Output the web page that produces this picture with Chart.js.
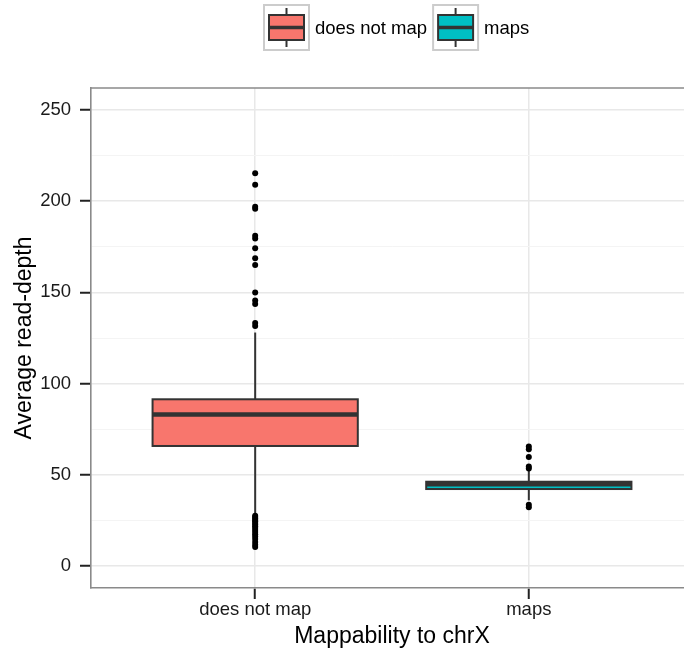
<!DOCTYPE html>
<html>
<head>
<meta charset="utf-8">
<script src="https://cdn.jsdelivr.net/npm/chart.js@4.4.0/dist/chart.umd.min.js"></script>
<style>
  html, body { margin: 0; padding: 0; background: #fff; overflow: hidden; }
  canvas { display: block; }
</style>
</head>
<body>
<canvas id="chart" width="700" height="655"></canvas>
<script>
const categories = ['does not map', 'maps'];
const fillColors = ['#F8766D', '#00BFC4'];

// box statistics, one entry per category
const lowerWhisker = [29, 36];
const lowerQuartile = [65.8, 42.2];
const medians = [83, 44.8];
const upperQuartile = [91.4, 46.2];
const upperWhisker = [128, 52.6];

const outliersDoesNotMap = [
  215.3, 209, 197, 195.8, 181, 179.5, 174.2, 168.7, 165, 149.9, 145.5, 143.6, 133.2, 131.6,
  27.5, 26.8, 26, 25.2, 24.5, 23.6, 22.8, 21.8, 20.8, 19.8, 18.6, 17.4, 16.2, 14.8, 13.2, 11.6, 10.4
];
const outliersMaps = [65.5, 64, 59.8, 54.5, 53.4, 33.6, 32.2];

const yTicks = [0, 25, 50, 75, 100, 125, 150, 175, 200, 225, 250];
const yLabelled = [0, 50, 100, 150, 200, 250];
const xTicks = [1, 2];

const FONT = '"Liberation Sans", Arial, Helvetica, sans-serif';
const boxHalfWidth = 0.375;
const darkLine = '#333333';
const panelBorder = '#8a8a8a';

const boxPlugin = {
  id: 'boxes',
  beforeDatasetsDraw(chart) {
    const { ctx, scales: { x, y } } = chart;
    ctx.save();
    categories.forEach((name, i) => {
      const pos = xTicks[i];
      const cx = x.getPixelForValue(pos);
      const left = x.getPixelForValue(pos - boxHalfWidth);
      const right = x.getPixelForValue(pos + boxHalfWidth);
      const top = y.getPixelForValue(upperQuartile[i]);
      const bottom = y.getPixelForValue(lowerQuartile[i]);

      ctx.strokeStyle = darkLine;
      ctx.lineWidth = 2;
      ctx.beginPath();
      ctx.moveTo(cx, y.getPixelForValue(lowerWhisker[i]));
      ctx.lineTo(cx, y.getPixelForValue(upperWhisker[i]));
      ctx.stroke();

      ctx.fillStyle = fillColors[i];
      ctx.fillRect(left, top, right - left, bottom - top);
      ctx.strokeRect(left, top, right - left, bottom - top);

      const mid = y.getPixelForValue(medians[i]);
      ctx.lineWidth = 4.5;
      ctx.beginPath();
      ctx.moveTo(left, mid);
      ctx.lineTo(right, mid);
      ctx.stroke();
    });
    ctx.restore();
  },
  afterDraw(chart) {
    const { ctx, chartArea } = chart;
    ctx.save();
    // panel border on top and right
    ctx.strokeStyle = panelBorder;
    ctx.lineWidth = 1.6;
    ctx.beginPath();
    ctx.moveTo(chartArea.left, chartArea.top);
    ctx.lineTo(chartArea.right, chartArea.top);
    ctx.lineTo(chartArea.right, chartArea.bottom);
    ctx.stroke();

    // legend
    const keySize = 47;
    const keyTop = 4;
    let kx = 263;
    ctx.font = '18.5px ' + FONT;
    ctx.textBaseline = 'middle';
    ctx.textAlign = 'left';
    categories.forEach((name, i) => {
      ctx.fillStyle = '#ffffff';
      ctx.fillRect(kx, keyTop, keySize, keySize);
      ctx.strokeStyle = '#cccccc';
      ctx.lineWidth = 2;
      ctx.strokeRect(kx + 1, keyTop + 1, keySize - 2, keySize - 2);

      const cx = kx + keySize / 2;
      const cy = keyTop + keySize / 2;
      ctx.strokeStyle = darkLine;
      ctx.lineWidth = 2;
      ctx.beginPath();
      ctx.moveTo(cx, keyTop + 4);
      ctx.lineTo(cx, keyTop + keySize - 4);
      ctx.stroke();
      ctx.fillStyle = fillColors[i];
      ctx.fillRect(kx + 6, keyTop + 11, keySize - 12, keySize - 22);
      ctx.strokeRect(kx + 6, keyTop + 11, keySize - 12, keySize - 22);
      ctx.lineWidth = 3.5;
      ctx.beginPath();
      ctx.moveTo(kx + 6, cy);
      ctx.lineTo(kx + keySize - 6, cy);
      ctx.stroke();

      ctx.fillStyle = '#000000';
      ctx.fillText(name, kx + keySize + 5, cy + 1);
      kx += keySize + 5 + ctx.measureText(name).width + 5;
    });
    ctx.restore();
  }
};

const isMajor = (v) => yLabelled.includes(v);

new Chart(document.getElementById('chart'), {
  type: 'scatter',
  data: {
    datasets: [
      {
        label: categories[0],
        data: outliersDoesNotMap.map((v) => ({ x: xTicks[0], y: v })),
        backgroundColor: '#000000',
        borderWidth: 0,
        pointRadius: 3
      },
      {
        label: categories[1],
        data: outliersMaps.map((v) => ({ x: xTicks[1], y: v })),
        backgroundColor: '#000000',
        borderWidth: 0,
        pointRadius: 3
      }
    ]
  },
  options: {
    responsive: false,
    animation: false,
    devicePixelRatio: 1,
    events: [],
    layout: { padding: { top: 88, right: 7, left: 0, bottom: 0 } },
    plugins: {
      legend: { display: false },
      tooltip: { enabled: false }
    },
    scales: {
      x: {
        type: 'linear',
        min: 0.4,
        max: 2.6,
        afterBuildTicks: (axis) => { axis.ticks = xTicks.map((v) => ({ value: v })); },
        afterFit: (axis) => { axis.height = 67; },
        ticks: {
          callback: (v) => categories[xTicks.indexOf(v)],
          color: '#1a1a1a',
          font: { family: FONT, size: 18.5 },
          padding: 0,
          maxRotation: 0,
          autoSkip: false
        },
        grid: {
          color: '#e8e8e8',
          lineWidth: 1.5,
          tickColor: '#222222',
          tickWidth: 2,
          tickLength: 11
        },
        border: { color: panelBorder, width: 1.6 },
        title: {
          display: true,
          text: 'Mappability to chrX',
          color: '#000000',
          font: { family: FONT, size: 23 },
          padding: { top: 0, bottom: 5 }
        }
      },
      y: {
        min: -12.06,
        max: 262.06,
        afterBuildTicks: (axis) => { axis.ticks = yTicks.map((v) => ({ value: v })); },
        afterFit: (axis) => { axis.width = 91; },
        ticks: {
          callback: (v) => (isMajor(v) ? String(v) : ''),
          color: '#1a1a1a',
          font: { family: FONT, size: 18.5 },
          padding: 9,
          autoSkip: false
        },
        grid: {
          color: (c) => (c.tick && isMajor(c.tick.value) ? '#e8e8e8' : '#f4f4f4'),
          lineWidth: (c) => (c.tick && isMajor(c.tick.value) ? 1.5 : 1),
          tickColor: (c) => (c.tick && isMajor(c.tick.value) ? '#222222' : 'rgba(0,0,0,0)'),
          tickWidth: 2,
          tickLength: 11
        },
        border: { color: panelBorder, width: 1.6 },
        title: {
          display: true,
          text: 'Average read-depth',
          color: '#000000',
          font: { family: FONT, size: 23 },
          padding: { top: 11, bottom: 0 }
        }
      }
    }
  },
  plugins: [boxPlugin]
});
</script>
</body>
</html>
